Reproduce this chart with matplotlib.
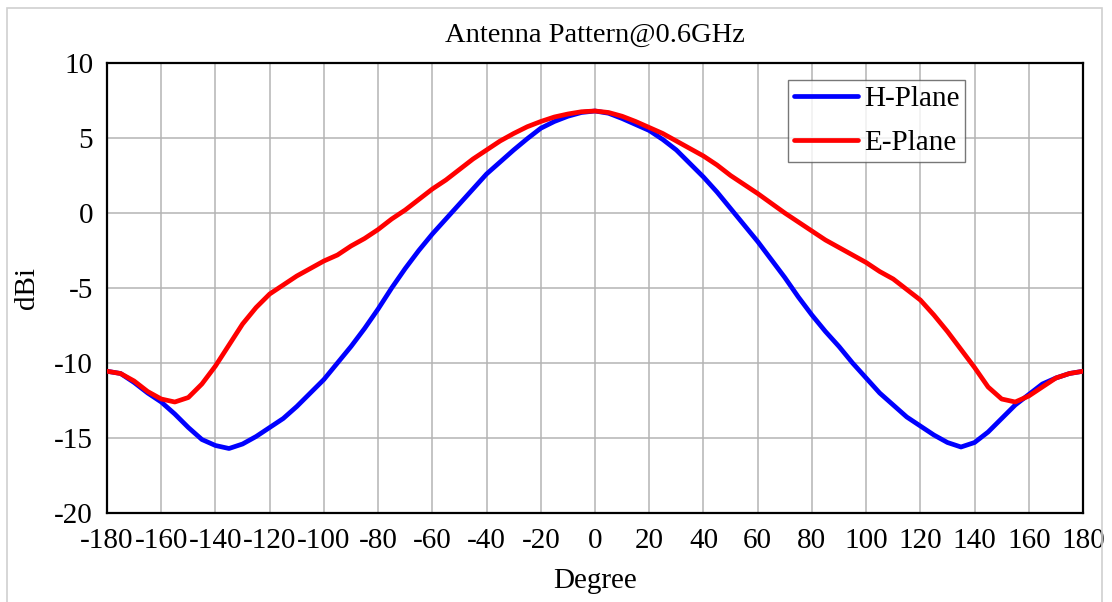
import matplotlib
matplotlib.use("Agg")
import matplotlib.pyplot as plt
from matplotlib.patches import Rectangle

plt.rcParams['font.family'] = ['Liberation Serif', 'DejaVu Serif']
plt.rcParams['axes.unicode_minus'] = False

angles = list(range(-180, 181, 5))

h_plane = [-10.55, -10.7, -11.3, -12.0, -12.6, -13.4, -14.3, -15.1, -15.5, -15.7,
           -15.4, -14.9, -14.3, -13.7, -12.9, -12.0, -11.1, -10.0, -8.9, -7.7,
           -6.4, -5.0, -3.7, -2.5, -1.4, -0.4, 0.6, 1.6, 2.6, 3.4,
           4.2, 4.95, 5.65, 6.1, 6.45, 6.7, 6.8, 6.65, 6.3, 5.9,
           5.5, 4.9, 4.2, 3.3, 2.4, 1.4, 0.3, -0.8, -1.9, -3.1,
           -4.3, -5.6, -6.8, -7.9, -8.9, -10.0, -11.0, -12.0, -12.8, -13.6,
           -14.2, -14.8, -15.3, -15.6, -15.3, -14.6, -13.7, -12.8, -12.1, -11.4,
           -11.0, -10.7, -10.55]

e_plane = [-10.55, -10.7, -11.2, -11.9, -12.4, -12.6, -12.3, -11.4, -10.2, -8.8,
           -7.4, -6.3, -5.4, -4.8, -4.2, -3.7, -3.2, -2.8, -2.2, -1.7,
           -1.1, -0.4, 0.2, 0.9, 1.6, 2.2, 2.9, 3.6, 4.2, 4.8,
           5.3, 5.75, 6.1, 6.4, 6.6, 6.75, 6.8, 6.7, 6.45, 6.1,
           5.7, 5.3, 4.8, 4.3, 3.8, 3.2, 2.5, 1.9, 1.3, 0.65,
           0.0, -0.6, -1.2, -1.8, -2.3, -2.8, -3.3, -3.9, -4.4, -5.1,
           -5.8, -6.8, -7.9, -9.1, -10.3, -11.6, -12.4, -12.6, -12.2, -11.6,
           -11.0, -10.7, -10.55]

x_ticks = list(range(-180, 181, 20))
y_ticks = list(range(-20, 11, 5))

W, H = 1112, 602
fig = plt.figure(figsize=(W / 100, H / 100), dpi=100)
ax = fig.add_axes([107 / W, 1 - 513 / H, (1083 - 107) / W, (513 - 63) / H])

ax.plot(angles, h_plane, color='#0000FF', lw=3.4, label='H-Plane',
        solid_joinstyle='round', solid_capstyle='round', zorder=3)
ax.plot(angles, e_plane, color='#FF0000', lw=3.4, label='E-Plane',
        solid_joinstyle='round', solid_capstyle='round', zorder=4)

ax.set_xlim(-180, 180)
ax.set_ylim(-20, 10)
ax.set_xticks(x_ticks)
ax.set_yticks(y_ticks)
ax.grid(True, color='#b4b4b4', lw=1.1)
ax.set_axisbelow(True)
ax.tick_params(length=0, labelsize=21)
ax.tick_params(axis='x', pad=11)
ax.tick_params(axis='y', pad=10)
for s in ax.spines.values():
    s.set_color('black')
    s.set_linewidth(1.6)

ax.set_title('Antenna Pattern@0.6GHz', fontsize=20.5, pad=15)
ax.set_xlabel('Degree', fontsize=21, labelpad=10)
ax.set_ylabel('dBi', fontsize=21, labelpad=10)

leg = ax.legend(loc='upper left', bbox_to_anchor=((788 - 107) / (1083 - 107), 1 - (80 - 63) / 450),
                fontsize=21, frameon=True, fancybox=False, edgecolor='#555555',
                handlelength=2.2, handletextpad=0.2, borderpad=0.2, labelspacing=0.6,
                borderaxespad=0)
leg.get_frame().set_linewidth(1.0)

fig.patches.append(Rectangle((7 / W, -0.1), (1102 - 7) / W, 1.1 - 8 / H + 0.0,
                             transform=fig.transFigure, fill=False,
                             edgecolor='#d0d0d0', lw=1.2))

fig.savefig('out.png', dpi=100)
